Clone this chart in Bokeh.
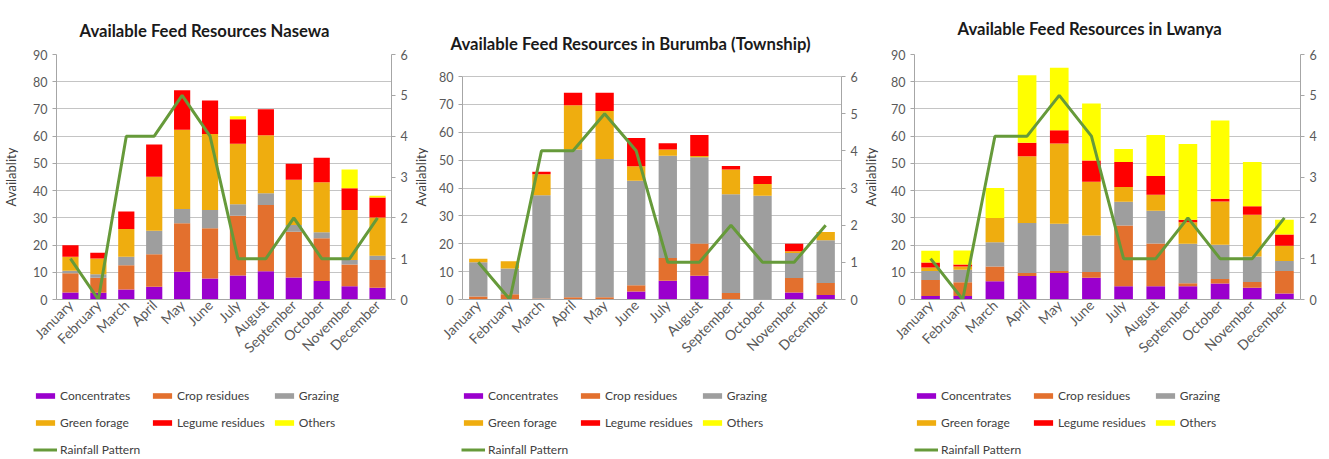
import math
from bokeh.plotting import figure
from bokeh.models import (ColumnDataSource, Range1d, LinearAxis, Legend, LegendItem,
                          SingleIntervalTicker)
from bokeh.layouts import row, column
from bokeh.embed import file_html
from bokeh.resources import INLINE

months = ["January", "February", "March", "April", "May", "June", "July",
          "August", "September", "October", "November", "December"]
series_keys = ["conc", "crop", "graz", "green", "legume", "others"]
series_labels = ["Concentrates", "Crop residues", "Grazing", "Green forage",
                 "Legume residues", "Others"]
series_colors = ["#9A00CD", "#E3702E", "#9E9E9E", "#EFAD0F", "#FF0000", "#FFFF00"]
rainfall = [1, 0, 4, 4, 5, 4, 1, 1, 2, 1, 1, 2]

nasewa_concentrates = [2.6, 2.5, 3.7, 4.7, 10.2, 7.7, 8.8, 10.4, 8.1, 6.8, 4.9, 4.3]
nasewa_crop_residues = [7.0, 5.5, 8.9, 11.9, 17.8, 18.5, 22.0, 24.3, 16.8, 15.7, 8.0, 10.2]
nasewa_grazing = [1.0, 1.3, 3.1, 8.7, 5.2, 6.7, 4.2, 4.3, 2.5, 2.2, 1.6, 1.6]
nasewa_green_forage = [5.1, 5.8, 10.2, 19.8, 29.2, 27.9, 22.2, 21.3, 16.6, 18.4, 18.4, 14.0]
nasewa_legume_residues = [4.2, 2.1, 6.4, 11.8, 14.5, 12.3, 9.0, 9.6, 5.9, 9.0, 8.0, 7.4]
nasewa_others = [0, 0, 0, 0, 0, 0, 1.1, 0, 0, 0, 6.9, 0.6]

burumba_concentrates = [0, 0, 0, 0, 0, 2.9, 6.7, 8.5, 0, 0, 2.5, 1.6]
burumba_crop_residues = [1.1, 1.9, 0.4, 0.8, 0.8, 2.2, 8.2, 11.6, 2.3, 0, 5.2, 4.3]
burumba_grazing = [12.3, 9.2, 37.0, 53.0, 49.6, 37.5, 36.7, 30.9, 35.5, 37.2, 9.0, 15.4]
burumba_green_forage = [1.2, 2.6, 7.5, 15.9, 17.2, 5.2, 2.2, 0.5, 8.8, 4.2, 0.6, 2.9]
burumba_legume_residues = [0, 0, 0.9, 4.5, 6.6, 10.1, 2.3, 7.5, 1.3, 2.9, 2.7, 0]
burumba_others = [0, 0, 0, 0, 0, 0, 0, 0, 0, 0, 0, 0]

lwanya_concentrates = [1.3, 1.3, 6.7, 8.6, 9.7, 8.0, 4.9, 4.9, 4.9, 5.9, 4.3, 2.2]
lwanya_crop_residues = [5.9, 5.0, 5.4, 1.1, 0.8, 2.1, 22.3, 15.7, 1.1, 1.6, 2.1, 8.3]
lwanya_grazing = [3.3, 4.6, 8.9, 18.4, 17.3, 13.4, 8.7, 12.0, 14.5, 12.6, 9.4, 3.6]
lwanya_green_forage = [1.3, 1.2, 8.9, 24.5, 29.5, 19.8, 5.4, 5.9, 7.9, 15.9, 15.3, 5.6]
lwanya_legume_residues = [1.8, 0.8, 0, 5.0, 4.9, 7.8, 9.2, 6.9, 0.9, 1.0, 3.2, 4.2]
lwanya_others = [4.3, 5.1, 11.1, 24.8, 22.9, 20.9, 4.8, 15.0, 27.8, 28.8, 16.2, 5.4]

FONT = "Lato"
RAIN_COLOR = "#669A3A"
GRID = "#C4C4C4"
AXIS = "#A6A6A6"
TICK_TXT = "#595959"

PLOT_H = 380
LEG_H = 79
BORDER_TOP = 54
BORDER_BOTTOM = 81


def make_panel(title, values, ymax, yshow, width, bl, br, title_offset,
               title_standoff, ylabel_standoff):
    data = {"month": months}
    for k, v in zip(series_keys, values):
        data[k] = v
    src = ColumnDataSource(data)
    p = figure(x_range=months, y_range=Range1d(0, ymax), width=width, height=PLOT_H,
               output_backend="svg", toolbar_location=None,
               min_border_left=bl, min_border_right=br,
               min_border_top=BORDER_TOP, min_border_bottom=BORDER_BOTTOM)
    p.extra_y_ranges = {"rain": Range1d(0, 6 * ymax / yshow)}
    p.outline_line_color = None

    p.vbar_stack(series_keys, x="month", width=0.58, source=src,
                 fill_color=series_colors, line_color=None)
    p.line(months, rainfall, y_range_name="rain", line_color=RAIN_COLOR, line_width=3)

    p.title.text = title
    p.title.text_font = FONT
    p.title.text_font_size = "16.7px"
    p.title.text_font_style = "bold"
    p.title.text_color = "#1A1A1A"
    p.title.align = "left"
    p.title.offset = title_offset
    p.title.standoff = title_standoff

    ya = p.yaxis[0]
    ya.ticker = SingleIntervalTicker(interval=10)
    ya.bounds = (0, yshow)
    ya.axis_label = "Availablity"
    ya.axis_label_text_font = FONT
    ya.axis_label_text_font_size = "13px"
    ya.axis_label_text_font_style = "normal"
    ya.axis_label_text_color = "#404040"
    ya.axis_label_standoff = ylabel_standoff
    ya.major_label_text_font = FONT
    ya.major_label_text_font_size = "12.5px"
    ya.major_label_text_color = TICK_TXT
    ya.major_label_standoff = 5
    ya.axis_line_color = AXIS
    ya.major_tick_line_color = AXIS
    ya.major_tick_out = 4
    ya.major_tick_in = 0
    ya.minor_tick_line_color = None

    ra = LinearAxis(y_range_name="rain", ticker=SingleIntervalTicker(interval=1),
                    bounds=(0, 6))
    ra.major_label_text_font = FONT
    ra.major_label_text_font_size = "12.5px"
    ra.major_label_text_color = TICK_TXT
    ra.major_label_standoff = 5
    ra.axis_line_color = AXIS
    ra.major_tick_line_color = AXIS
    ra.major_tick_out = 4
    ra.major_tick_in = 0
    ra.minor_tick_line_color = None
    p.add_layout(ra, "right")

    xa = p.xaxis[0]
    xa.major_label_orientation = math.pi / 4
    xa.major_label_text_font = FONT
    xa.major_label_text_font_size = "14px"
    xa.major_label_text_color = TICK_TXT
    xa.major_label_standoff = 3
    xa.axis_line_color = AXIS
    xa.major_tick_line_color = None
    xa.major_tick_out = 0
    xa.major_tick_in = 0

    p.xgrid.visible = False
    p.ygrid.grid_line_color = GRID
    return p


def make_legend_fig(width, loc):
    f = figure(width=width, height=LEG_H, x_range=Range1d(0, 1), y_range=Range1d(0, 1),
               x_axis_type=None, y_axis_type=None, output_backend="svg",
               toolbar_location=None, min_border=0)
    f.outline_line_color = None
    f.xgrid.visible = False
    f.ygrid.visible = False
    # hidden sample (outside the visible range) so the legend swatches get drawn
    hidden = ColumnDataSource(dict(x=[-10, -11], y=[-10, -11]))
    items = []
    for lab, col in zip(series_labels, series_colors):
        r = f.vbar(x="x", top="y", width=0.5, source=hidden, fill_color=col,
                   line_color=None)
        items.append(LegendItem(label=lab, renderers=[r]))
    rl = f.line(x="x", y="y", source=hidden, line_color=RAIN_COLOR, line_width=3)
    items.append(LegendItem(label="Rainfall Pattern", renderers=[rl]))
    leg = Legend(items=items, location=loc, orientation="horizontal", ncols=3,
                 glyph_width=24, glyph_height=7, label_height=20, label_width=83,
                 label_standoff=3, spacing=7, padding=0, margin=0,
                 label_text_font=FONT, label_text_font_size="12px",
                 label_text_color="#404040",
                 border_line_color=None, background_fill_alpha=0)
    f.add_layout(leg)
    return f


p1 = make_panel("Available Feed Resources Nasewa",
                [nasewa_concentrates, nasewa_crop_residues, nasewa_grazing,
                 nasewa_green_forage, nasewa_legume_residues, nasewa_others],
                90, 90, 410, 52, 18, 23, 27, 11)
p2 = make_panel("Available Feed Resources in Burumba (Township)",
                [burumba_concentrates, burumba_crop_residues, burumba_grazing,
                 burumba_green_forage, burumba_legume_residues, burumba_others],
                87.9, 80, 450, 50, 17, -12, 2, 7)
p3 = make_panel("Available Feed Resources in Lwanya",
                [lwanya_concentrates, lwanya_crop_residues, lwanya_grazing,
                 lwanya_green_forage, lwanya_legume_residues, lwanya_others],
                90, 90, 469, 48, 29, 43, 31, 9)

l1 = make_legend_fig(410, (33, 0))
l2 = make_legend_fig(450, (51, 0))
l3 = make_legend_fig(469, (54, 0))

layout = column(row(p1, p2, p3), row(l1, l2, l3))
open("out.html", "w").write(file_html(layout, INLINE))
